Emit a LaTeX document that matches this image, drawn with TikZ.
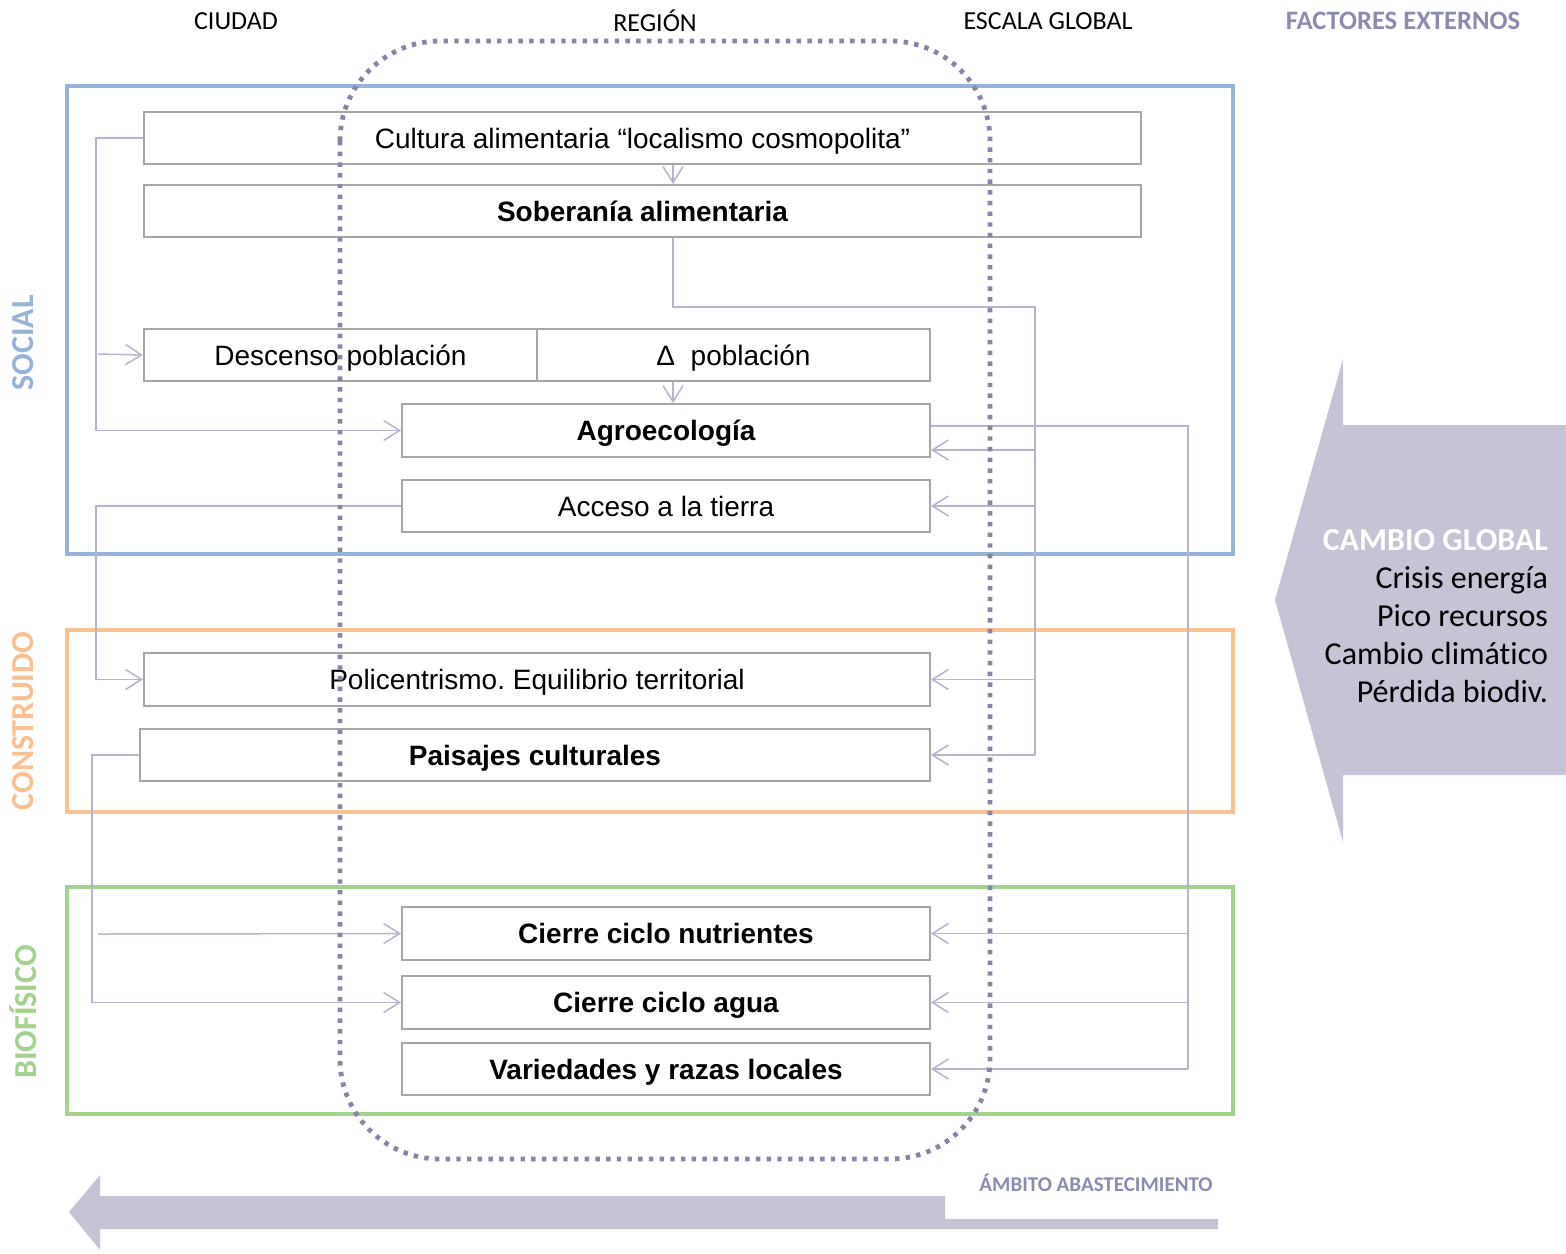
\documentclass[tikz,border=0pt]{standalone}
\usepackage{fontspec}
\setmainfont{Liberation Sans}
\newfontfamily\calib[Ligatures=NoCommon]{Carlito}
\usetikzlibrary{arrows.meta}
\definecolor{socialcol}{HTML}{95B3D7}
\definecolor{constcol}{HTML}{FAC090}
\definecolor{biocol}{HTML}{A3D28C}
\definecolor{conncol}{HTML}{B4B4CE}
\definecolor{dotcol}{HTML}{8585A8}
\definecolor{fillcol}{HTML}{C4C4D6}
\definecolor{boxcol}{HTML}{A6A6A6}
\definecolor{exttext}{HTML}{8B8BB0}
\frenchspacing
\tikzset{
  box/.style={draw=boxcol, line width=1pt, fill=white, inner sep=0pt, minimum height=26pt,
    text height=10pt, text depth=0pt, font=\fontsize{14}{16}\selectfont},
  bbox/.style={box, font=\fontsize{14}{16}\selectfont\bfseries},
  frame/.style={line width=2pt},
  conn/.style={draw=conncol, line width=0.75pt},
  arr/.style={conn, -{Straight Barb[length=8pt,width=10pt]}},
  head/.style={font=\calib\fontsize{13}{15}\selectfont},
  sidelab/.style={rotate=90, font=\calib\bfseries\fontsize{16}{18}\selectfont},
  dotline/.style={draw=dotcol, line width=2.4pt, dash pattern=on 2.2pt off 3.15pt, rounded corners=50pt}
}
\begin{document}
\begin{tikzpicture}[x=0.5pt,y=-0.5pt]
\useasboundingbox (0,0) rectangle (1566,1253);

% headers
\node[head] (hciudad) at (236,21) {CIUDAD};
\node[head] (hregion) at (655,21) {REGIÓN};
\node[head] (hglobal) at (1048,21) {ESCALA GLOBAL};
\node[font=\calib\bfseries\fontsize{13.3}{15}\selectfont, text=exttext] (hext) at (1403,21) {FACTORES EXTERNOS};

% frames
\draw[frame, draw=socialcol] (67,86) rectangle (1233,554);
\draw[frame, draw=constcol] (67,630) rectangle (1233,812);
\draw[frame, draw=biocol] (67,887) rectangle (1233,1114);
\node[sidelab, text=socialcol] (lsocial) at (23,343) {SOCIAL};
\node[sidelab, text=constcol] (lconst) at (23,721) {CONSTRUIDO};
\node[sidelab, text=biocol] (lbio) at (23,1012) {BIOFÍSICO};

% coordinates for connectors
\coordinate (xa) at (673,0);
\coordinate (y450) at (0,450);
\coordinate (d0) at (98,354);
\coordinate (n0) at (98,934);
\coordinate (r1top) at (1035,307);
\coordinate (r1bot) at (1035,755);
\coordinate (r2top) at (1188,426);
\coordinate (r2bot) at (1188,1069);

% boxes
\node[box, minimum width=498.5pt] (cult) at (642.5,138) {Cultura alimentaria “localismo cosmopolita”};
\node[bbox, minimum width=498.5pt] (sob) at (642.5,211) {Soberanía alimentaria};
\node[box, minimum width=196.5pt] (desc) at (340.5,355) {Descenso población};
\node[box, minimum width=196.5pt] (delta) at (733.5,355) {Δ\ \ población};
\node[bbox, minimum width=264pt, minimum height=26.5pt] (agro) at (666,430.5) {Agroecología};
\node[box, minimum width=264pt] (acc) at (666,506) {Acceso a la tierra};
\node[box, minimum width=393pt, minimum height=26.5pt] (poli) at (537,679.5) {Policentrismo. Equilibrio territorial};
\node[bbox, minimum width=395pt] (pais) at (535,755) {Paisajes culturales};
\node[bbox, minimum width=264pt, minimum height=26.5pt] (nut) at (666,933.5) {Cierre ciclo nutrientes};
\node[bbox, minimum width=264pt, minimum height=26.5pt] (agua) at (666,1002.5) {Cierre ciclo agua};
\node[bbox, minimum width=264pt] (var) at (666,1069) {Variedades y razas locales};

% connectors
\draw[arr] (cult.west) -- (96,138) |- (agro.west);
\draw[arr] (d0) -- (desc.west);
\draw[arr] (cult.south -| xa) -- (sob.north -| xa);
\draw[conn] (sob.south -| xa) |- (r1top) -- (r1bot);
\draw[arr] (r1top |- y450) -- (agro.east |- y450);
\draw[arr] (r1top |- acc.east) -- (acc.east);
\draw[arr] (r1top |- poli.east) -- (poli.east);
\draw[arr] (r1bot) -- (pais.east);
\draw[arr] (delta.south -| xa) -- (agro.north -| xa);
\draw[arr] (acc.west) -- (96,506) |- (poli.west);
\draw[arr] (pais.west) -- (92,755) |- (agua.west);
\draw[arr] (n0) -- (nut.west);
\draw[conn] (agro.east |- r2top) -- (r2top) -- (r2bot);
\draw[arr] (r2top |- nut.east) -- (nut.east);
\draw[arr] (r2top |- agua.east) -- (agua.east);
\draw[arr] (r2bot) -- (var.east);

% dotted regional boundary
\draw[dotline] (340,41) rectangle (990,1159);

% external factors arrow
\fill[fillcol] (1275,600) -- (1343,359) -- (1343,425) -- (1566,425) -- (1566,775) -- (1343,775) -- (1343,842) -- cycle;
\node[anchor=east, align=right, font=\calib\fontsize{16}{19}\selectfont] (cambio) at (1555,616)
  {\textcolor{white}{\bfseries CAMBIO GLOBAL}\\Crisis energía\\Pico recursos\\Cambio climático\\Pérdida biodiv.};

% bottom arrow
\fill[fillcol] (69,1212) -- (100,1175) -- (100,1196) -- (945,1196) -- (945,1219) -- (1218,1219) -- (1218,1229) -- (100,1229) -- (100,1250) -- cycle;
\node[font=\calib\bfseries\fontsize{10.5}{12}\selectfont, text=exttext] (ambito) at (1096,1183) {ÁMBITO ABASTECIMIENTO};
\end{tikzpicture}
\end{document}
